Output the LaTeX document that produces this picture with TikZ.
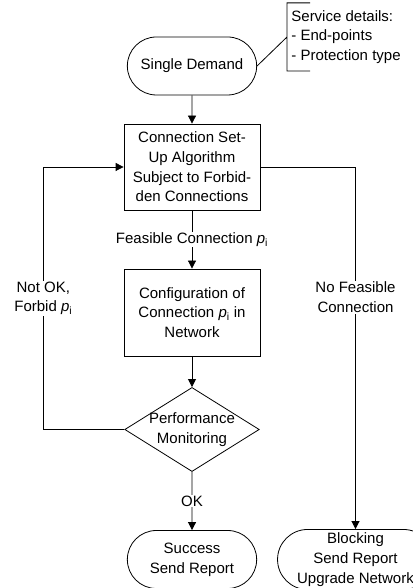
\documentclass[tikz,border=0pt]{standalone}
\usepackage{fontspec}
\setmainfont{Liberation Sans}
\usetikzlibrary{shapes.misc,shapes.geometric,arrows.meta}

\newcommand{\pvar}{\textit{p}\textsubscript{i}}

\begin{document}
\begin{tikzpicture}[x=1pt,y=1pt,
    font=\fontsize{15}{19.7}\selectfont,
    line width=0.8pt,
    terminal/.style={draw,rounded rectangle,minimum width=136pt,minimum height=58pt,align=center},
    process/.style={draw,rectangle,minimum width=136pt,align=center},
    decision/.style={draw,diamond,aspect=1.6,inner sep=-1pt,align=center},
    lbl/.style={fill=white,inner sep=1pt,align=center},
    arr/.style={-{Triangle[length=8pt,width=8pt]}}]
    \useasboundingbox (0,0) rectangle (412,588);
            \node[terminal] (demand) at (192,522) {Single Demand};
            \node[anchor=west,align=left,inner xsep=4pt,inner ysep=7pt] (details) at (287,551)
                {Service details:\\- End-points\\- Protection type};
            \node[process,minimum height=86pt] (setup) at (192,421)
                {Connection Set-\\Up Algorithm\\Subject to Forbid-\\den Connections};
            \node[process,minimum height=87pt] (config) at (192,275.5)
                {Configuration of\\Connection \pvar{} in\\Network};
            \node[decision] (perf) at (192,158.5) {Performance\\Monitoring};
            \node[terminal] (success) at (192,28.5) {Success\\Send Report};
            \node[terminal] (blocking) at (355.5,28.5) {Blocking\\Send Report\\Upgrade Network};

            \draw
            ([xshift=23pt]details.north west) -- (details.north west)
            -- (details.south west) -- ([xshift=23pt]details.south west)
            (demand.east) -- (details.west)
            ;
            \draw[arr] (demand) -- (setup);
            \draw[arr] (setup) -- (config) node[lbl,midway] {Feasible Connection \pvar};
            \draw[arr] (config) -- (perf);
            \draw[arr] (perf) -- (success) node[lbl,midway] {OK};
            \draw[arr] (perf.west) -- ++(-81,0) |- (setup.west)
                node[lbl,pos=0.25] {Not OK,\\Forbid \pvar};
            \draw[arr] (setup.east) -| (blocking.north)
                node[lbl,pos=0.68] {No Feasible\\Connection};
        \end{tikzpicture}
\end{document}
